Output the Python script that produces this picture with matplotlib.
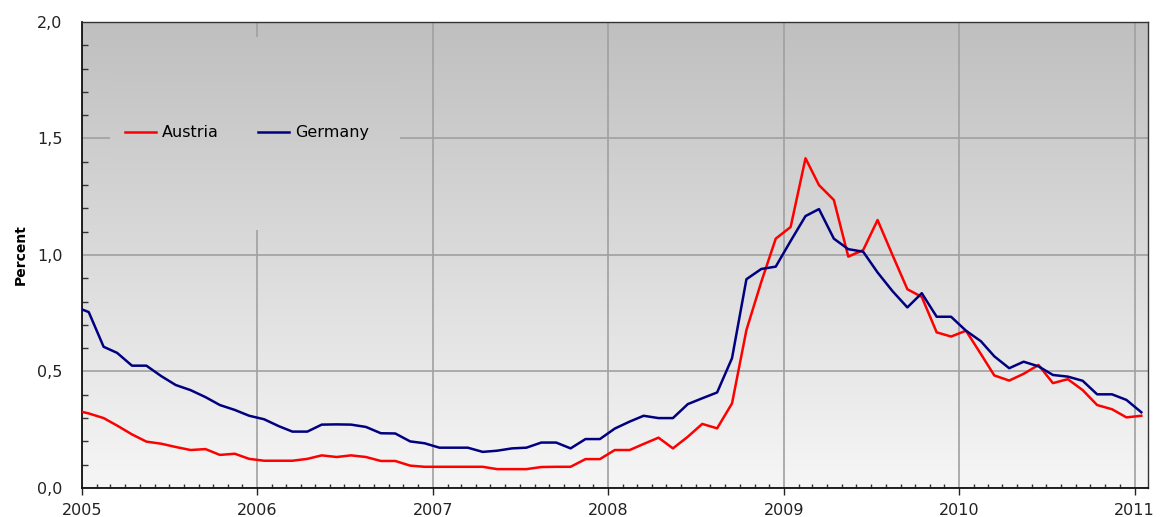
import numpy as np
import pandas as pd
import matplotlib
matplotlib.use("Agg")
import matplotlib.pyplot as plt
import matplotlib.dates as mdates
from matplotlib.colors import LinearSegmentedColormap
from matplotlib.ticker import FuncFormatter, MultipleLocator

# monthly observations (mid-month), Dec 2004 .. Jan 2011
dates = pd.date_range("2004-12-01", periods=74, freq="MS") + pd.Timedelta(days=14)

austria = [
    0.335, 0.32, 0.30, 0.268, 0.23, 0.199, 0.19, 0.176, 0.163, 0.167, 0.142, 0.147,
    0.125, 0.117, 0.117, 0.117, 0.125, 0.14, 0.133, 0.14, 0.133, 0.116, 0.116,
    0.096, 0.091, 0.091, 0.091, 0.091, 0.091, 0.081, 0.081, 0.081, 0.09, 0.091,
    0.091, 0.124, 0.124, 0.163, 0.163, 0.189, 0.216, 0.17, 0.22, 0.275, 0.256,
    0.363, 0.678, 0.885, 1.07, 1.12, 1.415, 1.30, 1.236, 0.993, 1.021, 1.15,
    1.0, 0.853, 0.82, 0.668, 0.65, 0.675, 0.575, 0.483, 0.461,
    0.49, 0.528, 0.45, 0.467, 0.42, 0.356, 0.338, 0.303, 0.31,
]

germany = [
    0.78, 0.755, 0.606, 0.58, 0.525, 0.525, 0.48, 0.442, 0.42, 0.39, 0.356, 0.335,
    0.31, 0.295, 0.265, 0.242, 0.242, 0.272, 0.273, 0.272, 0.262, 0.235, 0.234,
    0.20, 0.192, 0.173, 0.173, 0.173, 0.155, 0.16, 0.17, 0.173, 0.195, 0.195,
    0.17, 0.21, 0.21, 0.255, 0.285, 0.31, 0.30, 0.30, 0.36, 0.385, 0.41,
    0.557, 0.896, 0.94, 0.95, 1.06, 1.167, 1.197, 1.07, 1.025, 1.014, 0.925,
    0.845, 0.775, 0.836, 0.735, 0.735, 0.675, 0.63, 0.565, 0.514,
    0.542, 0.522, 0.485, 0.478, 0.46, 0.402, 0.402, 0.378, 0.325,
]

FS = 11.5

fig = plt.figure(figsize=(11.6, 5.17), dpi=100)
ax = fig.add_axes([0.0707, 0.0561, 0.919, 0.9014])

ax.plot(dates, austria, color="#ff0000", lw=1.8, label="Austria", zorder=3)
ax.plot(dates, germany, color="#000080", lw=1.8, label="Germany", zorder=3)

# grey gradient background
cmap = LinearSegmentedColormap.from_list("bg", ["#f6f6f6", "#bfbfbf"])
grad = np.linspace(0, 1, 256).reshape(-1, 1)
ax.imshow(grad, cmap=cmap, vmin=0, vmax=1, aspect="auto", origin="lower",
          extent=[0, 1, 0, 1], transform=ax.transAxes, zorder=0.1)

# legend box hides the grid behind it
lx0, lx1, ly0, ly1 = 0.026, 0.298, 0.554, 0.968
sub = np.linspace(ly0, ly1, 128).reshape(-1, 1)
ax.imshow(sub, cmap=cmap, vmin=0, vmax=1, aspect="auto", origin="lower",
          extent=[lx0, lx1, ly0, ly1], transform=ax.transAxes, zorder=0.7)

ax.set_axisbelow(True)
ax.grid(True, which="major", color="#a0a0a0", lw=1.2)

ax.set_ylim(0, 2.0)
ax.set_xlim(pd.Timestamp("2005-01-01"), pd.Timestamp("2011-01-29"))

ax.yaxis.set_major_locator(MultipleLocator(0.5))
ax.yaxis.set_minor_locator(MultipleLocator(0.1))
ax.yaxis.set_major_formatter(FuncFormatter(lambda v, p: f"{v:.1f}".replace(".", ",")))
ax.xaxis.set_major_locator(mdates.YearLocator())
ax.xaxis.set_minor_locator(mdates.MonthLocator())
ax.xaxis.set_major_formatter(mdates.DateFormatter("%Y"))

ax.tick_params(axis="x", which="major", direction="out", length=5, width=1,
               labelsize=FS, colors="#222222", pad=6)
ax.tick_params(axis="x", which="minor", direction="in", length=3, width=1, colors="#333333")
ax.tick_params(axis="y", which="major", direction="in", length=0,
               labelsize=FS, colors="#222222", pad=14)
ax.yaxis.set_tick_params(which="minor", direction="in", length=4, width=1, color="#333333")

for side in ["left", "bottom"]:
    ax.spines[side].set_color("#111111")
    ax.spines[side].set_linewidth(1.3)
for side in ["top", "right"]:
    ax.spines[side].set_color("#333333")
    ax.spines[side].set_linewidth(1.0)

ax.set_ylabel("Percent", fontsize=10, fontweight="bold", labelpad=7)

ax.legend(loc="center left", bbox_to_anchor=(0.04, 0.762), ncol=2, frameon=False,
          fontsize=FS, handlelength=1.95, handletextpad=0.35, columnspacing=2.5,
          borderaxespad=0, borderpad=0)

fig.savefig("out.png", dpi=100)
